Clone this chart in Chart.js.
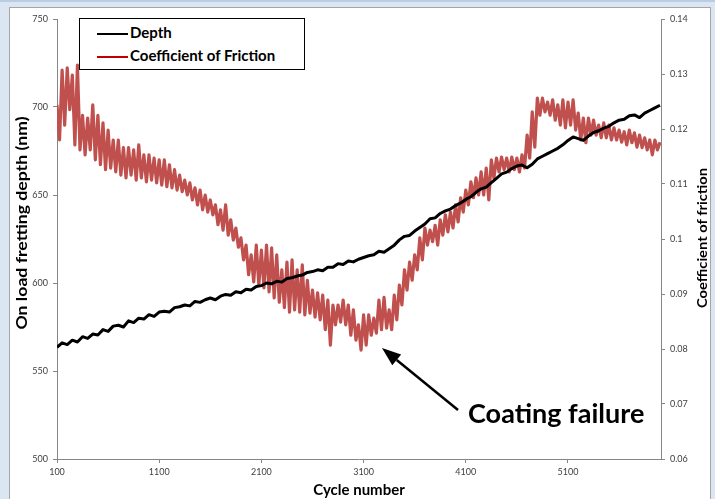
<!DOCTYPE html>
<html>
<head>
<meta charset="utf-8">
<script src="https://cdn.jsdelivr.net/npm/chart.js@4.4.1/dist/chart.umd.min.js"></script>
<style>
  html, body { margin: 0; padding: 0; }
  body { width: 715px; height: 499px; background: #dce6f2; position: relative; overflow: hidden; }
  #topline { position: absolute; left: 0; top: 0; width: 715px; height: 2px; background: #b8cce4; }
  #panel { position: absolute; left: 9px; top: 7px; width: 700px; height: 520px; background: #fff; border: 1px solid #a5a5a5; }
  #chartCanvas { position: absolute; left: 0; top: 0; }
  #legend { position: absolute; left: 79px; top: 18px; width: 224px; height: 48px; padding-top: 2px; box-sizing: content-box;
            border: 1px solid #000; background: #fff; font: bold 15px Lato, sans-serif; color: #000; }
  #legend .row { height: 23px; line-height: 23px; white-space: nowrap; }
  #legend .swatch { display: inline-block; width: 31px; height: 2.5px; margin-left: 17px; margin-right: 2px; vertical-align: middle; }
</style>
</head>
<body>
<div id="topline"></div>
<div id="panel"></div>
<canvas id="chartCanvas" width="715" height="499"></canvas>
<div id="legend"></div>
<script>
// x axis
const xTickValues = [100, 1100, 2100, 3100, 4100, 5100];

// depth (nm), one sample every 50 cycles starting at cycle 100
const depthStart = 100;
const depthStep = 50;
const depthNm = [
    563.5, 566.0, 565.0, 567.5, 566.5, 569.5, 568.5, 571.0, 570.5, 573.5,
    572.5, 575.5, 576.0, 575.0, 578.5, 577.5, 580.0, 579.5, 582.0, 581.0,
    583.5, 584.0, 583.5, 586.0, 586.5, 587.5, 587.0, 589.5, 589.0, 590.5,
    591.5, 590.5, 592.5, 593.5, 593.0, 595.0, 594.5, 596.5, 596.0, 598.0,
    598.5, 600.0, 599.5, 601.0, 600.5, 602.5, 603.0, 604.0, 604.5, 606.0,
    606.5, 607.5, 607.0, 609.0, 609.0, 611.0, 610.5, 612.5, 612.0, 613.5,
    614.5, 615.5, 616.0, 618.0, 617.5, 619.5, 621.5, 624.5, 626.5, 627.0,
    629.5, 631.5, 633.5, 636.5, 637.0, 639.5, 641.0, 642.0, 644.0, 645.5,
    647.5, 649.0, 651.5, 653.5, 654.5, 657.0, 659.5, 662.0, 663.0, 665.0,
    666.5, 667.0, 665.5, 667.5, 670.5, 672.0, 673.5, 675.0, 676.5, 678.5,
    681.0, 683.0, 682.0, 681.0, 683.5, 685.5, 686.5, 688.0, 689.0, 691.0,
    692.5, 693.0, 695.0, 695.5, 694.0, 696.5, 698.0, 699.5, 701.0
];

// coefficient of friction, one sample every 25 cycles starting at cycle 100
const frictionStart = 100;
const frictionStep = 25;
const frictionCoef = [
    0.1244, 0.1180, 0.1307, 0.1207, 0.1311, 0.1235, 0.1298, 0.1171, 0.1316, 0.1162,
    0.1225, 0.1153, 0.1220, 0.1162, 0.1244, 0.1144, 0.1225, 0.1135, 0.1211, 0.1126,
    0.1198, 0.1129, 0.1180, 0.1122, 0.1180, 0.1116, 0.1166, 0.1111, 0.1166, 0.1116,
    0.1162, 0.1107, 0.1171, 0.1111, 0.1153, 0.1104, 0.1153, 0.1107, 0.1147, 0.1102,
    0.1144, 0.1098, 0.1144, 0.1095, 0.1135, 0.1093, 0.1126, 0.1089, 0.1116, 0.1086,
    0.1107, 0.1080, 0.1102, 0.1071, 0.1093, 0.1062, 0.1089, 0.1053, 0.1080, 0.1049,
    0.1071, 0.1044, 0.1062, 0.1026, 0.1053, 0.1016, 0.1062, 0.1007, 0.1035, 0.0998,
    0.1020, 0.0985, 0.1002, 0.0962, 0.0989, 0.0935, 0.0971, 0.0922, 0.0989, 0.0916,
    0.0980, 0.0911, 0.0989, 0.0904, 0.0984, 0.0893, 0.0971, 0.0885, 0.0944, 0.0875,
    0.0958, 0.0867, 0.0962, 0.0871, 0.0944, 0.0867, 0.0953, 0.0862, 0.0925, 0.0865,
    0.0907, 0.0858, 0.0902, 0.0853, 0.0898, 0.0835, 0.0889, 0.0807, 0.0880, 0.0844,
    0.0880, 0.0849, 0.0889, 0.0844, 0.0880, 0.0825, 0.0871, 0.0816, 0.0844, 0.0798,
    0.0862, 0.0807, 0.0862, 0.0825, 0.0856, 0.0829, 0.0889, 0.0835, 0.0894, 0.0838,
    0.0871, 0.0835, 0.0898, 0.0853, 0.0916, 0.0880, 0.0944, 0.0907, 0.0958, 0.0925,
    0.0971, 0.0944, 0.1002, 0.0962, 0.1020, 0.0989, 0.1016, 0.0995, 0.1025, 0.0989,
    0.1035, 0.1007, 0.1044, 0.1013, 0.1049, 0.1020, 0.1062, 0.1031, 0.1075, 0.1049,
    0.1089, 0.1062, 0.1104, 0.1075, 0.1111, 0.1080, 0.1122, 0.1080, 0.1129, 0.1071,
    0.1144, 0.1111, 0.1147, 0.1122, 0.1149, 0.1126, 0.1147, 0.1122, 0.1149, 0.1126,
    0.1147, 0.1122, 0.1153, 0.1129, 0.1189, 0.1147, 0.1231, 0.1167, 0.1256, 0.1225,
    0.1256, 0.1231, 0.1249, 0.1225, 0.1253, 0.1216, 0.1244, 0.1207, 0.1253, 0.1202,
    0.1249, 0.1207, 0.1253, 0.1198, 0.1229, 0.1180, 0.1220, 0.1175, 0.1220, 0.1189,
    0.1216, 0.1189, 0.1207, 0.1184, 0.1211, 0.1184, 0.1207, 0.1180, 0.1202, 0.1180,
    0.1198, 0.1176, 0.1195, 0.1171, 0.1198, 0.1175, 0.1193, 0.1167, 0.1189, 0.1166,
    0.1184, 0.1162, 0.1180, 0.1153, 0.1180, 0.1162, 0.1176
];

// arrow + label pointing at the friction minimum (data coordinates)
const failureNote = {
    text: 'Coating failure',
    tipCycle: 3280, tipCoef: 0.0802,
    tailCycle: 4024, tailCoef: 0.0689,
    textCycle: 4122, textCoef: 0.06655
};

Chart.defaults.font.family = 'Lato, "Open Sans", sans-serif';

const axisGrey = '#868686';
const tickColor = '#404040';

function toPoints(values, start, step) {
    return values.map((v, i) => ({ x: start + i * step, y: v }));
}

// rotated title, squeezed/stretched along its length to the wanted span
function drawVerticalTitle(ctx, text, cx, cy, font, span) {
    ctx.save();
    ctx.font = font;
    ctx.translate(cx, cy);
    ctx.rotate(-Math.PI / 2);
    const w = ctx.measureText(text).width;
    ctx.scale(span / w, 1);
    ctx.fillText(text, 0, 0);
    ctx.restore();
}

const extraText = {
    id: 'extraText',
    afterDraw(chart) {
        const { ctx, scales } = chart;
        ctx.save();
        ctx.fillStyle = '#000';
        ctx.textAlign = 'center';
        ctx.textBaseline = 'middle';

        drawVerticalTitle(ctx, 'On load fretting depth (nm)', 22, 223, 'bold 16px Lato, sans-serif', 213);
        drawVerticalTitle(ctx, 'Coefficient of friction', 702, 238, 'bold 14px Lato, sans-serif', 140);

        // annotation arrow
        const x = scales.x;
        const y = scales.yCof;
        const tx = x.getPixelForValue(failureNote.tipCycle);
        const ty = y.getPixelForValue(failureNote.tipCoef);
        const sx = x.getPixelForValue(failureNote.tailCycle);
        const sy = y.getPixelForValue(failureNote.tailCoef);
        const ang = Math.atan2(ty - sy, tx - sx);
        const headLen = 19;
        const headHalf = 7;
        const bx = tx - headLen * Math.cos(ang);
        const by = ty - headLen * Math.sin(ang);

        ctx.strokeStyle = '#000';
        ctx.lineWidth = 2.5;
        ctx.beginPath();
        ctx.moveTo(sx, sy);
        ctx.lineTo(bx, by);
        ctx.stroke();

        ctx.beginPath();
        ctx.moveTo(tx, ty);
        ctx.lineTo(bx + headHalf * Math.sin(ang), by - headHalf * Math.cos(ang));
        ctx.lineTo(bx - headHalf * Math.sin(ang), by + headHalf * Math.cos(ang));
        ctx.closePath();
        ctx.fill();

        ctx.font = 'bold 27px Lato, sans-serif';
        ctx.textAlign = 'left';
        ctx.textBaseline = 'alphabetic';
        ctx.fillText(failureNote.text, x.getPixelForValue(failureNote.textCycle), y.getPixelForValue(failureNote.textCoef));
        ctx.restore();
    }
};

function buildLegend(chart) {
    const box = document.querySelector('#legend');
    chart.data.datasets.forEach(ds => {
        const row = document.createElement('div');
        row.className = 'row';
        const swatch = document.createElement('span');
        swatch.className = 'swatch';
        swatch.style.background = ds.legendColor || ds.borderColor;
        row.appendChild(swatch);
        row.appendChild(document.createTextNode(ds.label));
        box.appendChild(row);
    });
}

const ctx = document.querySelector('#chartCanvas').getContext('2d');

const frictionChart = new Chart(ctx, {
    type: 'line',
    data: {
        datasets: [{
            label: 'Depth',
            data: toPoints(depthNm, depthStart, depthStep),
            yAxisID: 'yDepth',
            borderColor: '#000000',
            legendColor: '#000000',
            borderWidth: 3,
            pointRadius: 0,
            borderJoinStyle: 'round',
            tension: 0
        }, {
            label: 'Coefficient of Friction',
            data: toPoints(frictionCoef, frictionStart, frictionStep),
            yAxisID: 'yCof',
            borderColor: '#c0504d',
            legendColor: '#c00000',
            borderWidth: 3.2,
            pointRadius: 0,
            borderJoinStyle: 'round',
            tension: 0
        }]
    },
    options: {
        responsive: false,
        animation: false,
        layout: {
            padding: { top: 19, left: 0, right: 0, bottom: 0 }
        },
        plugins: {
            legend: { display: false },
            tooltip: { enabled: false }
        },
        scales: {
            x: {
                type: 'linear',
                position: 'bottom',
                min: 100,
                max: 6010,
                afterBuildTicks: scale => {
                    scale.ticks = xTickValues.map(v => ({ value: v }));
                },
                afterFit: scale => {
                    scale.height = 40;
                },
                ticks: {
                    color: tickColor,
                    font: { size: 9 },
                    padding: 4,
                    maxRotation: 0,
                    autoSkip: false,
                    callback: v => String(v)
                },
                grid: {
                    drawOnChartArea: false,
                    tickLength: 4,
                    color: axisGrey
                },
                border: { color: axisGrey },
                title: {
                    display: true,
                    text: 'Cycle number',
                    color: '#000',
                    font: { size: 15, weight: 'bold' },
                    padding: { top: 0, bottom: 0 }
                }
            },
            yDepth: {
                type: 'linear',
                position: 'left',
                min: 500,
                max: 750,
                afterFit: scale => {
                    scale.width = 57;
                },
                ticks: {
                    stepSize: 50,
                    color: tickColor,
                    font: { size: 9 },
                    padding: 5,
                    callback: v => String(v)
                },
                grid: {
                    drawOnChartArea: false,
                    tickLength: 4,
                    color: axisGrey
                },
                border: { color: axisGrey }
            },
            yCof: {
                type: 'linear',
                position: 'right',
                min: 0.06,
                max: 0.14,
                afterFit: scale => {
                    scale.width = 54;
                },
                ticks: {
                    stepSize: 0.01,
                    color: tickColor,
                    font: { size: 9 },
                    padding: 5,
                    callback: v => String(parseFloat(v.toFixed(3)))
                },
                grid: {
                    drawOnChartArea: false,
                    tickLength: 4,
                    color: axisGrey
                },
                border: { color: axisGrey }
            }
        }
    },
    plugins: [extraText]
});

buildLegend(frictionChart);
</script>
</body>
</html>
